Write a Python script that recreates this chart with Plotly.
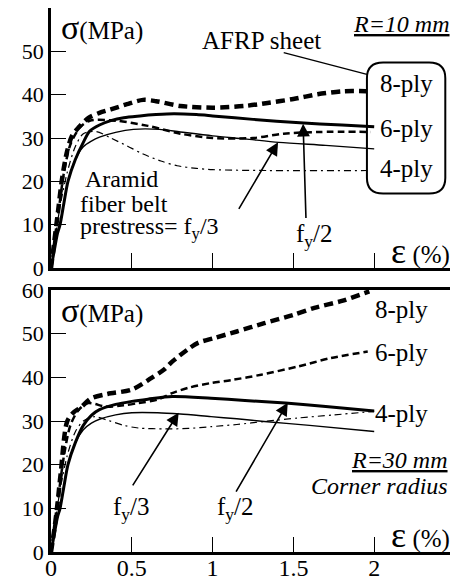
import plotly.graph_objects as go
from plotly.subplots import make_subplots

FONT = "Liberation Serif"

# ---------------- data: top panel (R = 10 mm) ----------------
t8_x = [0, 0.02, 0.04, 0.07, 0.1, 0.13, 0.17, 0.23, 0.3, 0.37, 0.47, 0.57, 0.65, 0.8, 1.0, 1.2, 1.34, 1.5, 1.65, 1.81, 1.95]
t8_y = [0, 6, 12, 21, 27, 30.5, 32.4, 34.6, 35.8, 36.6, 37.8, 38.8, 38.5, 37.4, 37.0, 37.4, 38.1, 39.0, 40.1, 40.8, 40.8]
t6_x = [0, 0.02, 0.05, 0.08, 0.12, 0.18, 0.24, 0.4, 0.6, 0.8, 1.0, 1.25, 1.44, 1.66, 1.98]
t6_y = [0, 6, 14, 22, 28.5, 32.5, 34, 34, 32.8, 31, 30, 30, 31, 31.4, 31.4]
t4_x = [0, 0.03, 0.06, 0.1, 0.15, 0.2, 0.28, 0.37, 0.47, 0.57, 0.68, 0.78, 0.9, 1.0, 1.34, 1.95]
t4_y = [0, 8, 15, 22, 28, 31, 31.5, 30, 28.2, 26.3, 24.7, 23.6, 23, 22.7, 22.5, 22.5]
tb2_x = [0, 0.02, 0.04, 0.056, 0.08, 0.105, 0.15, 0.2, 0.24, 0.3, 0.37, 0.45, 0.55, 0.65, 0.76, 0.9, 1.0, 1.25, 1.54, 1.8, 2.0]
tb2_y = [0, 4, 8, 10, 15, 20, 25, 29, 31.6, 33, 34, 34.7, 35.1, 35.4, 35.6, 35.4, 35.1, 34.3, 33.5, 33, 32.6]
tb3_x = [0, 0.02, 0.04, 0.06, 0.08, 0.105, 0.15, 0.2, 0.25, 0.3, 0.4, 0.51, 0.67, 0.8, 1.0, 1.2, 1.41, 1.7, 2.0]
tb3_y = [0, 4, 8, 11, 15, 20, 25, 28, 29.3, 30.2, 31.3, 32, 32, 31.4, 30.5, 29.8, 29, 28.3, 27.5]

# ---------------- data: bottom panel (R = 30 mm) ----------------
b8_x = [0, 0.02, 0.037, 0.06, 0.1, 0.14, 0.18, 0.25, 0.35, 0.5, 0.62, 0.7, 0.75, 0.85, 0.91, 1.01, 1.15, 1.32, 1.5, 1.63, 1.8, 1.94, 1.97]
b8_y = [0, 5, 10, 18, 29.9, 32, 33, 35.2, 36.2, 37.2, 39.8, 41.8, 43.6, 46.5, 47.9, 49, 50.5, 52.4, 54.3, 55.9, 57.5, 59.3, 59.7]
b6_x = [0, 0.02, 0.05, 0.08, 0.12, 0.17, 0.23, 0.34, 0.45, 0.54, 0.66, 0.75, 0.85, 0.99, 1.12, 1.3, 1.53, 1.73, 1.96]
b6_y = [0, 6, 14, 22, 29, 32.5, 34.1, 33.3, 33.6, 34.1, 34.9, 36.4, 37.6, 38.7, 39.4, 40.6, 42.5, 44.4, 45.9]
b4_x = [0, 0.03, 0.06, 0.1, 0.15, 0.2, 0.27, 0.34, 0.45, 0.54, 0.71, 0.85, 0.99, 1.15, 1.32, 1.53, 1.75, 2.0]
b4_y = [0, 8, 15, 22, 27.5, 30, 31, 30.3, 29, 28.4, 28.2, 28.3, 28.7, 29.2, 29.9, 30.7, 31.4, 32.2]
bb2_x = [0, 0.02, 0.04, 0.056, 0.08, 0.105, 0.15, 0.2, 0.25, 0.3, 0.4, 0.5, 0.6, 0.75, 0.99, 1.2, 1.45, 1.7, 2.0]
bb2_y = [0, 4, 8, 10, 15, 20, 25, 29, 31.3, 32.6, 33.8, 34.5, 35, 35.6, 35.2, 34.7, 34.1, 33.3, 32.3]
bb3_x = [0, 0.02, 0.04, 0.06, 0.08, 0.105, 0.15, 0.2, 0.25, 0.3, 0.4, 0.5, 0.66, 0.8, 0.99, 1.15, 1.32, 1.6, 2.0]
bb3_y = [0, 4, 8, 11, 15, 20, 25, 28, 29.5, 30.4, 31.4, 31.9, 31.9, 31.6, 31.0, 30.5, 29.9, 29, 27.6]

x_ticks = [0, 0.5, 1, 1.5, 2]
x_tick_text = ["0", "0.5", "1", "1.5", "2"]
y_ticks_top = [0, 10, 20, 30, 40, 50]
y_ticks_bot = [0, 10, 20, 30, 40, 50, 60]

fig = make_subplots(rows=2, cols=1)

styles = {
    "8": dict(color="black", width=4.5, dash="9px,5px"),
    "6": dict(color="black", width=2.5, dash="7px,4px"),
    "4": dict(color="black", width=1.2, dash="7px,4px,2px,4px"),
    "b2": dict(color="black", width=3),
    "b3": dict(color="black", width=1.4),
}

def add(x, y, st, row):
    fig.add_trace(go.Scatter(x=x, y=y, mode="lines", line=dict(shape="spline", smoothing=0.8, **styles[st]),
                             showlegend=False, hoverinfo="skip"), row=row, col=1)

add(t4_x, t4_y, "4", 1)
add(t6_x, t6_y, "6", 1)
add(t8_x, t8_y, "8", 1)
add(tb3_x, tb3_y, "b3", 1)
add(tb2_x, tb2_y, "b2", 1)
add(b4_x, b4_y, "4", 2)
add(b6_x, b6_y, "6", 2)
add(b8_x, b8_y, "8", 2)
add(bb3_x, bb3_y, "b3", 2)
add(bb2_x, bb2_y, "b2", 2)

axis_common = dict(showgrid=False, zeroline=False, showline=True, linecolor="black", linewidth=2.5,
                   mirror=True, ticks="inside", ticklen=15, tickwidth=1, tickcolor="black",
                   automargin=False)

fig.update_xaxes(range=[0, 2.5], tickvals=x_ticks, ticktext=x_tick_text, **axis_common)
fig.update_xaxes(showticklabels=False, row=1, col=1)
fig.update_xaxes(tickfont=dict(family=FONT, size=24, color="black"), ticklabelstandoff=-8, row=2, col=1)
fig.update_yaxes(range=[0, 60], **axis_common, tickfont=dict(family=FONT, size=22, color="black"))
fig.update_yaxes(tickvals=y_ticks_top, row=1, col=1)
fig.update_yaxes(tickvals=y_ticks_bot, row=2, col=1)

# page has an 8px body margin: figure is placed at (8, 8) in the window
fig.update_layout(
    width=450, height=572,
    margin=dict(l=43, r=3, t=0, b=28, autoexpand=False),
    paper_bgcolor="white", plot_bgcolor="white",
    xaxis=dict(domain=[0, 1]), yaxis=dict(domain=[0.522, 1.0]),
    xaxis2=dict(domain=[0, 1]), yaxis2=dict(domain=[0.0, 0.4816]),
    font=dict(family=FONT, color="black"),
)

def txt(text, x, y, row, size=25, xanchor="center", yanchor="middle"):
    xr = "x" if row == 1 else "x2"
    yr = "y" if row == 1 else "y2"
    fig.add_annotation(text=text, x=x, y=y, xref=xr, yref=yr, showarrow=False,
                       font=dict(family=FONT, size=size, color="black"), xanchor=xanchor, yanchor=yanchor)

def arrow(x0, y0, x1, y1, row):
    xr = "x" if row == 1 else "x2"
    yr = "y" if row == 1 else "y2"
    fig.add_annotation(text="", x=x1, y=y1, ax=x0, ay=y0, xref=xr, yref=yr, axref=xr, ayref=yr,
                       showarrow=True, arrowhead=2, arrowsize=1.6, arrowwidth=1.6, arrowcolor="black")

SIG = "<span style='font-size:34px'>σ</span>(MPa)"
EPS = "<span style='font-size:36px'>ε</span> (%)"

# top panel texts
txt(SIG, 0.05, 55.6, 1, size=25, xanchor="left")
txt(EPS, 2.48, 4.0, 1, size=25, xanchor="right")
txt("<i><u>R=10 mm</u></i>", 2.48, 56.4, 1, size=24, xanchor="right")
txt("AFRP sheet", 1.3, 52.5, 1)
txt("8-ply", 2.2, 42.5, 1)
txt("6-ply", 2.2, 32.3, 1)
txt("4-ply", 2.2, 22.9, 1)
txt("Aramid", 0.198, 20.6, 1, size=24, xanchor="left")
txt("fiber belt", 0.167, 14.7, 1, size=24, xanchor="left")
txt("prestress= f<sub>y</sub>/3", 0.167, 9.3, 1, size=24, xanchor="left")
txt("f<sub>y</sub>/2", 1.63, 7.6, 1)
arrow(1.157, 13.3, 1.405, 29.0, 1)
arrow(1.578, 11.2, 1.56, 33.3, 1)
# AFRP leader line
fig.add_shape(type="line", x0=1.44, y0=49.7, x1=1.955, y1=44.7, xref="x", yref="y",
              line=dict(color="black", width=1.3))
# rounded box
bx0, bx1, by0, by1 = 1.955, 2.44, 17.2, 47.4
rx, ry = 0.1, 3.6
path = (f"M {bx0+rx},{by1} L {bx1-rx},{by1} Q {bx1},{by1} {bx1},{by1-ry} "
        f"L {bx1},{by0+ry} Q {bx1},{by0} {bx1-rx},{by0} L {bx0+rx},{by0} "
        f"Q {bx0},{by0} {bx0},{by0+ry} L {bx0},{by1-ry} Q {bx0},{by1} {bx0+rx},{by1} Z")
fig.add_shape(type="path", path=path, xref="x", yref="y", line=dict(color="black", width=2))

# bottom panel texts
txt(SIG, 0.05, 55.3, 2, size=25, xanchor="left")
txt(EPS, 2.48, 4.0, 2, size=25, xanchor="right")
txt("8-ply", 2.17, 55.5, 2)
txt("6-ply", 2.17, 45.6, 2)
txt("4-ply", 2.17, 31.8, 2)
txt("<i><u>R=30 mm</u></i>", 2.47, 21.0, 2, size=24, xanchor="right")
txt("<i>Corner radius</i>", 2.47, 15.0, 2, size=24, xanchor="right")
txt("f<sub>y</sub>/3", 0.5, 10.0, 2)
txt("f<sub>y</sub>/2", 1.14, 10.0, 2)
arrow(0.5, 14.9, 0.79, 31.9, 2)
arrow(1.14, 13.5, 1.465, 34.2, 2)

fig.write_html("out.html")
